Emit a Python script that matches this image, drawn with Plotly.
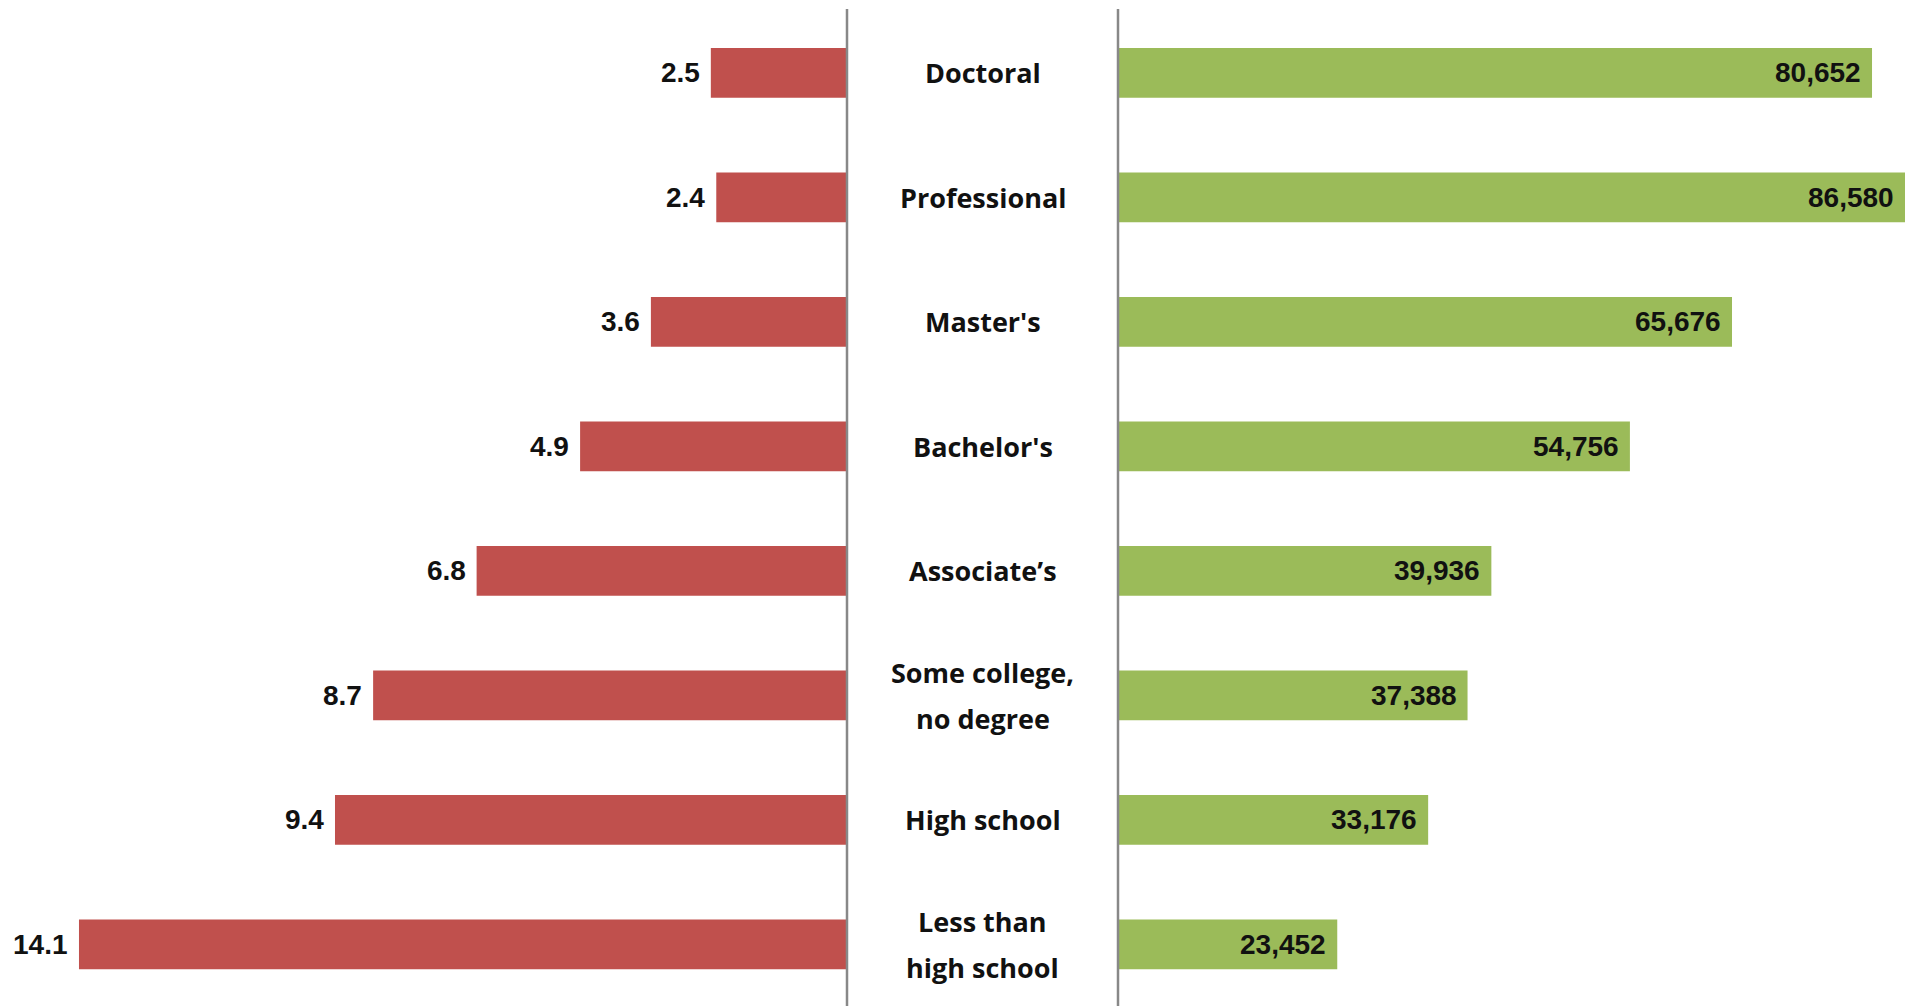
import plotly.graph_objects as go

# Education levels, top to bottom
categories = [
    "Doctoral",
    "Professional",
    "Master's",
    "Bachelor's",
    "Associate\u2019s",
    "Some college,<br>no degree",
    "High school",
    "Less than<br>high school",
]
# Unemployment rate (%) by education level
unemployment = [2.5, 2.4, 3.6, 4.9, 6.8, 8.7, 9.4, 14.1]
unemployment_labels = ["2.5", "2.4", "3.6", "4.9", "6.8", "8.7", "9.4", "14.1"]
# Median annual earnings ($) by education level
earnings = [80652, 86580, 65676, 54756, 39936, 37388, 33176, 23452]
earnings_labels = ["80,652", "86,580", "65,676", "54,756", "39,936", "37,388", "33,176", "23,452"]

W, H = 1905, 1006
left_axis_px = 847
right_axis_px = 1118
red_max = 15.55
green_max = 84180
line_gap_px = 46  # spacing between the lines of a two-line category name

RED = "#C0504D"
GREEN = "#9BBB59"
NUM_FONT = dict(family="Liberation Sans, Arial, sans-serif", size=28, color="#111111", weight="bold")
CAT_FONT = dict(family="Open Sans, sans-serif", size=27, color="#111111", weight="bold")

ypos = list(range(len(categories)))

fig = go.Figure()

fig.add_trace(go.Bar(
    x=unemployment, y=ypos, orientation="h",
    marker=dict(color=RED, line=dict(width=0)),
    xaxis="x", yaxis="y", showlegend=False, hoverinfo="skip",
))

fig.add_trace(go.Bar(
    x=earnings, y=ypos, orientation="h",
    marker=dict(color=GREEN, line=dict(width=0)),
    xaxis="x2", yaxis="y", showlegend=False, hoverinfo="skip",
))

# Unemployment values just left of each red bar
for i, (v, lab) in enumerate(zip(unemployment, unemployment_labels)):
    fig.add_annotation(
        x=v, xref="x", y=i, yref="y", text=lab, showarrow=False,
        xanchor="right", yanchor="middle", xshift=-9, font=NUM_FONT,
    )

# Earnings values inside the end of each green bar (kept within the visible panel)
for i, (v, lab) in enumerate(zip(earnings, earnings_labels)):
    fig.add_annotation(
        x=min(v, green_max), xref="x2", y=i, yref="y", text=lab, showarrow=False,
        xanchor="right", yanchor="middle", xshift=-9, font=NUM_FONT,
    )

# Category names centred between the two panels
cx = (left_axis_px + right_axis_px) / 2 / W
for i, name in enumerate(categories):
    lines = name.split("<br>")
    n = len(lines)
    for k, line in enumerate(lines):
        fig.add_annotation(
            x=cx, xref="paper", y=i, yref="y",
            yshift=((n - 1) / 2 - k) * line_gap_px,
            text=line, showarrow=False, xanchor="center", yanchor="middle",
            align="center", font=CAT_FONT,
        )

# Panel divider lines
for px in (left_axis_px, right_axis_px):
    fig.add_shape(
        type="line", xref="paper", yref="paper",
        x0=px / W, x1=px / W, y0=0, y1=(H - 9) / H,
        line=dict(color="#888888", width=2.5),
    )

fig.update_layout(
    width=W, height=H,
    margin=dict(l=0, r=0, t=0, b=0),
    paper_bgcolor="white", plot_bgcolor="white",
    bargap=0.6,
    xaxis=dict(domain=[0, left_axis_px / W], range=[red_max, 0],
               showgrid=False, zeroline=False, showticklabels=False, showline=False),
    xaxis2=dict(domain=[right_axis_px / W, 1], range=[0, green_max],
                showgrid=False, zeroline=False, showticklabels=False, showline=False),
    yaxis=dict(range=[7.495, -0.585], showgrid=False, zeroline=False,
               showticklabels=False, showline=False),
)

fig.write_html("out.html")
